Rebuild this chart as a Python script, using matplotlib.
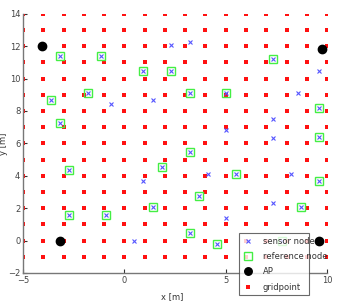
import numpy as np
import matplotlib
matplotlib.use('Agg')
import matplotlib.pyplot as plt

# reference nodes (sensor nodes that also carry a green square)
ref_x = [-3.17, -1.14, -3.63, -1.80, -3.17, 0.94, 2.31, 3.22, 5.03, 7.33, 9.62, 9.62,
         -2.74, -2.72, -0.89, 3.22, 1.85, 3.68, 1.40, 3.22, 4.59, 5.50, 9.60, 8.70, 7.79]
ref_y = [11.41, 11.41, 8.65, 9.12, 7.27, 10.50, 10.50, 9.10, 9.10, 11.20, 8.20, 6.39,
         4.33, 1.59, 1.59, 5.46, 4.57, 2.75, 2.04, 0.46, -0.22, 4.10, 3.65, 2.04, 0.00]

# sensor nodes that are not reference nodes
sen_x = [-0.68, 2.29, 3.22, 1.40, 9.60, 8.56, 7.33, 5.03, 7.33, 0.94, 4.12, 0.48, 8.20, 7.34, 5.03]
sen_y = [8.43, 12.07, 12.29, 8.65, 10.50, 9.12, 7.50, 6.80, 6.36, 3.65, 4.10, 0.00, 4.10, 2.29, 1.36]

ap_x = [-4.09, 9.77, -3.17, 9.60]
ap_y = [12.04, 11.82, 0.00, 0.00]

grid_x = np.arange(-5, 11)
grid_y = np.arange(-1, 15)

fig = plt.figure(figsize=(3.45, 3.08), dpi=100)
ax = fig.add_axes([0.067, 0.114, 0.881, 0.841])

gx, gy = np.meshgrid(grid_x, grid_y)
all_sx = sen_x + ref_x
all_sy = sen_y + ref_y

ax.plot(all_sx, all_sy, 'x', color='#5555ff', ms=3.5, mew=0.8, label='sensor node', zorder=3)
ax.plot(ref_x, ref_y, 's', mfc='none', mec='#44ee44', ms=6, mew=1.0, label='reference node', zorder=3)
ax.plot(ap_x, ap_y, 'o', color='black', ms=6, label='AP', zorder=4)
ax.plot(gx.ravel(), gy.ravel(), 's', color='#ff1111', ms=2.5, mew=0, label='gridpoint', zorder=2)

ax.set_xlim(-5, 10)
ax.set_ylim(-2, 14)
ax.set_xticks([-5, 0, 5, 10])
ax.set_yticks(np.arange(-2, 15, 2))
ax.spines['top'].set_visible(False)
ax.spines['right'].set_visible(False)
for s in ['left', 'bottom']:
    ax.spines[s].set_color('#777777')
    ax.spines[s].set_linewidth(1.0)
ax.tick_params(direction='in', length=3, width=0.8, color='#333333',
               labelsize=6, labelcolor='#444444', pad=2)
ax.set_xlabel('x [m]', fontsize=6, color='#333333')
ax.set_ylabel('y [m]', fontsize=6, color='#333333')
ax.xaxis.set_label_coords(0.49, -0.075)
ax.yaxis.set_label_coords(-0.05, 0.5)

leg = fig.legend(loc='lower left', bbox_to_anchor=(0.682, 0.029, 0.225, 0.163),
                 mode='expand', fontsize=6, frameon=True, fancybox=False,
                 borderpad=0.4, labelspacing=0.75, handlelength=1.2, handletextpad=1.2,
                 markerscale=0.9)
leg.get_frame().set_edgecolor('#444444')
leg.get_frame().set_linewidth(0.8)
for t in leg.get_texts():
    t.set_color('#333333')

fig.savefig('out.png', dpi=100)
